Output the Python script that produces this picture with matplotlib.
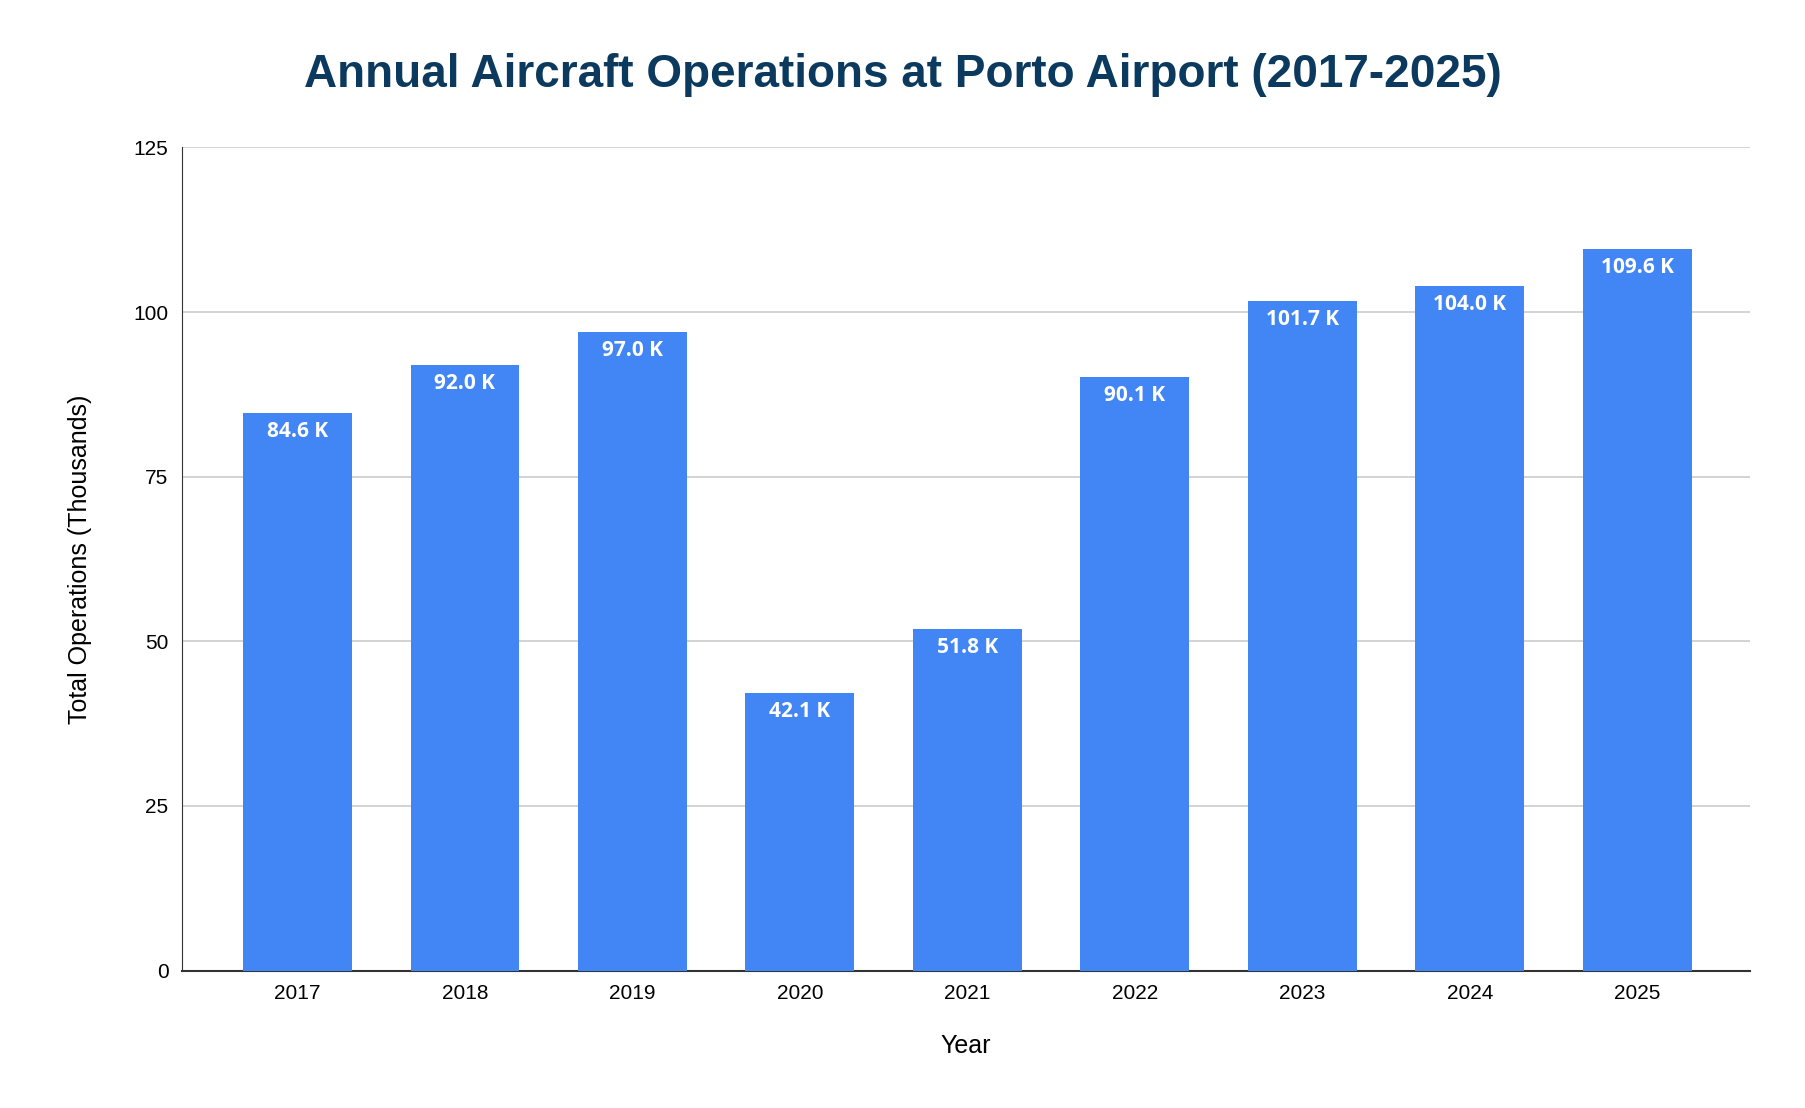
import matplotlib
matplotlib.use("Agg")
import matplotlib.pyplot as plt

years = ["2017","2018","2019","2020","2021","2022","2023","2024","2025"]
ops = [84.6, 92.0, 97.0, 42.1, 51.8, 90.1, 101.7, 104.0, 109.6]
labels = ["84.6 K","92.0 K","97.0 K","42.1 K","51.8 K","90.1 K","101.7 K","104.0 K","109.6 K"]
yticks = [0, 25, 50, 75, 100, 125]

plt.rcParams['font.family'] = ['Liberation Sans', 'DejaVu Sans']
fig = plt.figure(figsize=(18.06, 11.08), dpi=100)
ax = fig.add_axes([0.101, 0.124, 0.868, 0.743])
x = range(len(years))
ax.bar(x, ops, width=0.65, color="#4285F4", zorder=3)
for xi, v, lab in zip(x, ops, labels):
    ax.text(xi, v - 1.2, lab, ha="center", va="top", color="white",
            fontsize=15, fontweight="bold", family=["Open Sans", "DejaVu Sans"], zorder=4)
ax.set_xticks(list(x))
ax.set_xticklabels(years, fontsize=15)
ax.set_yticks(yticks)
ax.set_yticklabels([str(t) for t in yticks], fontsize=15)
ax.set_ylim(0, 125)
ax.set_xlim(-0.687, 8.673)
ax.yaxis.grid(True, color="#cccccc", linewidth=1.2, zorder=0)
ax.tick_params(length=0, pad=10)
for s in ["top", "right"]:
    ax.spines[s].set_visible(False)
ax.spines["left"].set_color("#333333")
ax.spines["bottom"].set_color("#333333")
ax.spines["bottom"].set_linewidth(1.5)
ax.set_xlabel("Year", fontsize=18, labelpad=22)
ax.set_ylabel("Total Operations (Thousands)", fontsize=18, labelpad=30)
fig.text(0.5, 0.932, "Annual Aircraft Operations at Porto Airport (2017-2025)", fontsize=33,
         fontweight="bold", color="#0b3a5e", ha="center", va="center")
fig.savefig("out.png", dpi=100)
